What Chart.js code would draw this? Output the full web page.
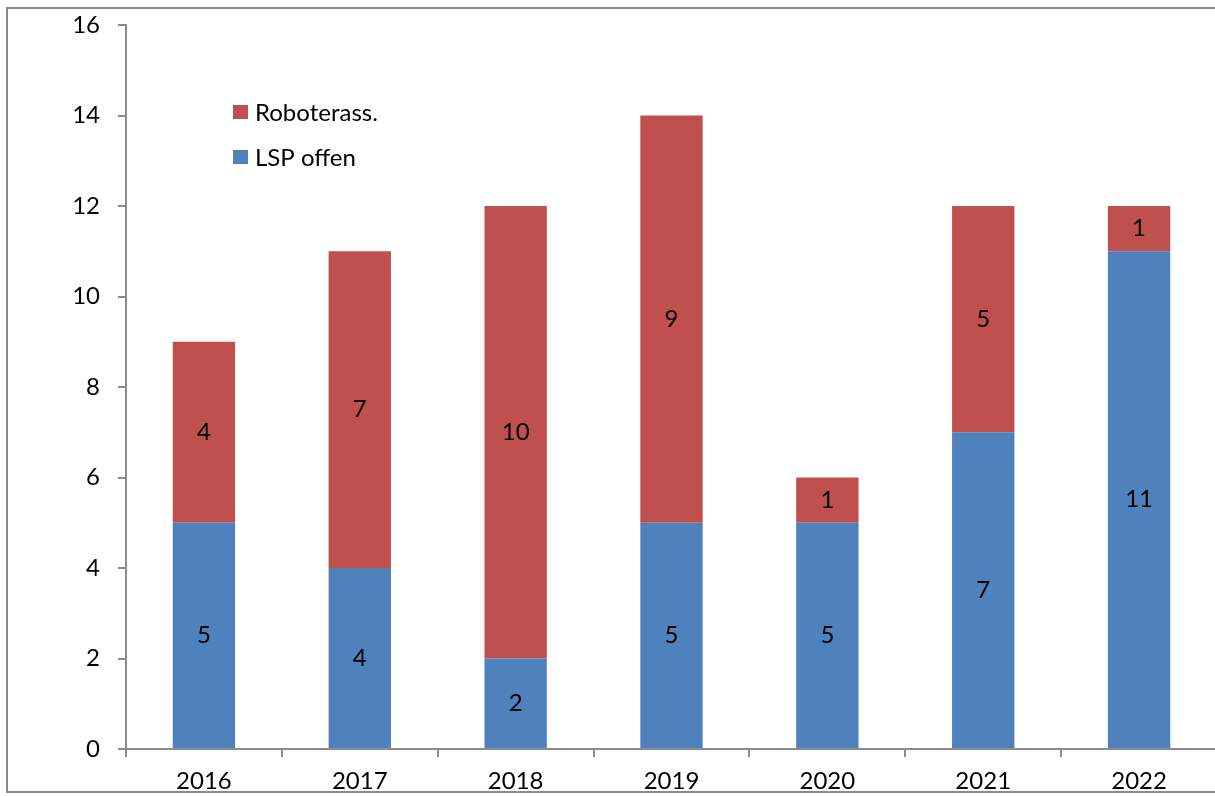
<!DOCTYPE html>
<html>
<head>
<meta charset="utf-8">
<script src="https://cdn.jsdelivr.net/npm/chart.js@4.4.0/dist/chart.umd.min.js"></script>
<style>
html,body{margin:0;padding:0;background:#fff;overflow:hidden;width:1215px;height:796px;}
#wrap{position:absolute;left:0;top:0;width:1240px;height:796px;}
</style>
</head>
<body>
<div id="wrap"><canvas id="c"></canvas></div>
<script>
const categories = ["2016","2017","2018","2019","2020","2021","2022"];
const lspOffen = [5,4,2,5,5,7,11];
const roboterass = [4,7,10,9,1,5,1];
const yTicks = [0,2,4,6,8,10,12,14,16];

const FONT = "Lato, 'Open Sans', sans-serif";
const FS = 24;
const AXIS = "#8c8c8c";

const framePlugin = {
  id:'frame',
  beforeDraw(chart){
    const ctx = chart.ctx;
    ctx.save();
    ctx.fillStyle = '#fff';
    ctx.fillRect(0,0,chart.width,chart.height);
    ctx.strokeStyle = AXIS;
    ctx.lineWidth = 2;
    ctx.strokeRect(7,8,1300,784);
    ctx.restore();
  }
};

const labelPlugin = {
  id:'labels',
  afterDatasetsDraw(chart){
    const ctx = chart.ctx;
    ctx.save();
    ctx.font = FS + "px " + FONT;
    ctx.fillStyle = '#000';
    ctx.textAlign = 'center';
    ctx.textBaseline = 'middle';
    chart.data.datasets.forEach((ds,i)=>{
      const meta = chart.getDatasetMeta(i);
      meta.data.forEach((bar,j)=>{
        const v = ds.data[j];
        if(!v) return;
        ctx.fillText(String(v), bar.x, (bar.y+bar.base)/2);
      });
    });
    // legend (top-down: Roboterass., LSP offen)
    const items = [chart.data.datasets[1], chart.data.datasets[0]];
    const ys = [112, 157];
    items.forEach((ds,k)=>{
      ctx.fillStyle = ds.backgroundColor;
      ctx.fillRect(233, ys[k]-7, 15, 14);
      ctx.fillStyle = '#000';
      ctx.textAlign = 'left';
      ctx.fillText(ds.label, 255, ys[k]+1);
    });
    ctx.restore();
  }
};

new Chart(document.getElementById('c'), {
  type:'bar',
  data:{
    labels: categories,
    datasets:[
      {label:'LSP offen', data: lspOffen, backgroundColor:'#4F81BD', categoryPercentage:1, barPercentage:0.4},
      {label:'Roboterass.', data: roboterass, backgroundColor:'#C0504D', categoryPercentage:1, barPercentage:0.4}
    ]
  },
  options:{
    responsive:true,
    maintainAspectRatio:false,
    animation:false,
    devicePixelRatio:1,
    layout:{padding:{left:0,top:25,right:23,bottom:0}},
    plugins:{legend:{display:false},tooltip:{enabled:false}},
    scales:{
      x:{
        stacked:true,
        afterFit(s){ s.height = 47; },
        grid:{display:true, drawOnChartArea:false, drawTicks:true, tickLength:8, color:AXIS, lineWidth:2, offset:true},
        border:{display:true, color:AXIS, width:2},
        ticks:{color:'#000', font:{family:FONT, size:FS}, padding:10, maxRotation:0}
      },
      y:{
        stacked:true,
        min:0, max:16,
        afterFit(s){ s.width = 126; s.paddingTop = 0; },
        afterBuildTicks(s){ s.ticks = yTicks.map(v=>({value:v})); },
        grid:{display:true, drawOnChartArea:false, drawTicks:true, tickLength:8, color:AXIS, lineWidth:2},
        border:{display:true, color:AXIS, width:2},
        ticks:{color:'#000', font:{family:FONT, size:FS}, padding:18}
      }
    }
  },
  plugins:[framePlugin, labelPlugin]
});
</script>
</body>
</html>
